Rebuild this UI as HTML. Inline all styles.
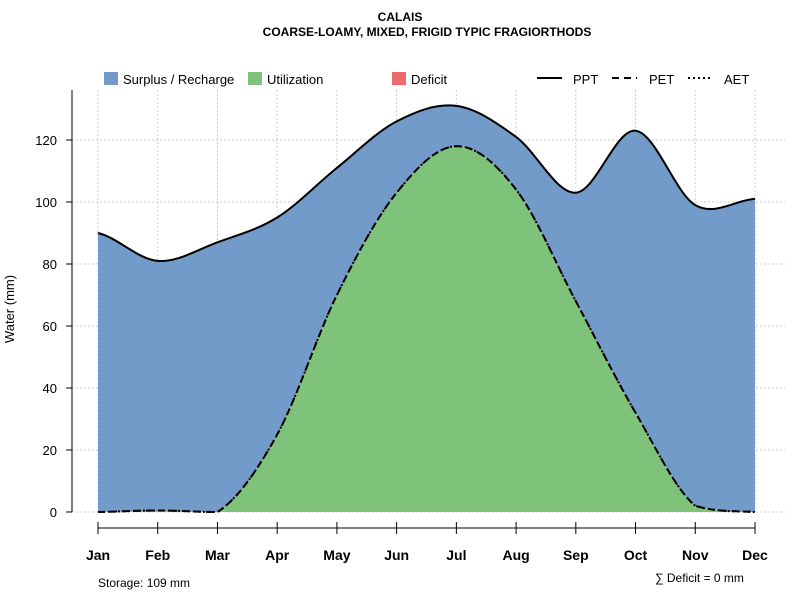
<!DOCTYPE html>
<html><head><meta charset="utf-8"><style>
body{margin:0;background:#fff;font-family:"Liberation Sans",sans-serif}
</style></head><body>
<svg id="c" width="800" height="600" xmlns="http://www.w3.org/2000/svg" font-family="Liberation Sans, sans-serif">
<text x="400" y="21" text-anchor="middle" font-size="12" font-weight="bold">CALAIS</text>
<text x="427" y="36" text-anchor="middle" font-size="12" font-weight="bold">COARSE-LOAMY, MIXED, FRIGID TYPIC FRAGIORTHODS</text>
<g id="grid"></g>
<g id="areas"></g>
<g id="lines"></g>
<g id="axes"></g>
<g font-size="13">
<rect x="104" y="72" width="14" height="13" fill="#729bc9"/><text x="123" y="84">Surplus / Recharge</text>
<rect x="248" y="72" width="14" height="13" fill="#7fc37b"/><text x="267" y="84">Utilization</text>
<rect x="392" y="72" width="14" height="13" fill="#ee6a6a"/><text x="411" y="84">Deficit</text>
<line x1="537" y1="78" x2="562" y2="78" stroke="#000" stroke-width="2"/><text x="573" y="84">PPT</text>
<line x1="612" y1="78" x2="637" y2="78" stroke="#000" stroke-width="2" stroke-dasharray="7,5"/><text x="649" y="84">PET</text>
<line x1="688" y1="78" x2="713" y2="78" stroke="#000" stroke-width="2" stroke-dasharray="2,3"/><text x="724" y="84">AET</text>
</g>
<text x="98" y="587" font-size="12">Storage: 109 mm</text>
<text x="655" y="582" font-size="12">∑ Deficit = 0 mm</text>
<text transform="translate(14,309) rotate(-90)" text-anchor="middle" font-size="13">Water (mm)</text>
</svg>
<script>
const months=["Jan","Feb","Mar","Apr","May","Jun","Jul","Aug","Sep","Oct","Nov","Dec"];
const ppt=[90,81,87,95,111,126,131,121,103,123,99,101];
const pet=[0,0.5,0,25,70,103,118,104,68,32,2,0];
const aet=[0,0.5,0,25,70,103,118,104,68,32,2,0];
const yTicks=[0,20,40,60,80,100,120];
const NS="http://www.w3.org/2000/svg";
const X=i=>98+i*(755-98)/11, Y=v=>512-v*3.1;
function mk(t,a,p){const e=document.createElementNS(NS,t);for(const k in a)e.setAttribute(k,a[k]);document.getElementById(p).appendChild(e);return e;}
function path(vals){let d=`M${X(0)},${Y(vals[0])}`;for(let i=0;i<vals.length-1;i++){const p0=vals[Math.max(i-1,0)],p1=vals[i],p2=vals[i+1],p3=vals[Math.min(i+2,vals.length-1)];const dx=X(1)-X(0);const c1=Math.max(0,p1+(p2-p0)/6),c2=Math.max(0,p2-(p3-p1)/6);d+=` C${X(i)+dx/3},${Y(c1)} ${X(i+1)-dx/3},${Y(c2)} ${X(i+1)},${Y(p2)}`;}return d;}
yTicks.forEach(v=>{const l=mk('line',{x1:72,x2:785,y1:Y(v),y2:Y(v),stroke:'#ccc','stroke-dasharray':'2,2'},'grid');});
months.forEach((m,i)=>{const l=mk('line',{x1:X(i),x2:X(i),y1:90,y2:512,stroke:'#ccc','stroke-dasharray':'2,2'},'grid');});
const base=`L${X(11)},${Y(0)} L${X(0)},${Y(0)} Z`;
const a1=mk('path',{d:path(ppt)+base,fill:'#729bc9'},'areas');
const a2=mk('path',{d:path(pet)+base,fill:'#7fc37b'},'areas');
const l1=mk('path',{d:path(ppt),fill:'none',stroke:'#000','stroke-width':2},'lines');
const l2=mk('path',{d:path(pet),fill:'none',stroke:'#000','stroke-width':2,'stroke-dasharray':'7,5'},'lines');
const l3=mk('path',{d:path(aet),fill:'none',stroke:'#000','stroke-width':2,'stroke-dasharray':'2,3'},'lines');
const ya=mk('line',{x1:72,x2:72,y1:90,y2:512,stroke:'#000'},'axes');
yTicks.forEach(v=>{mk('line',{x1:66,x2:72,y1:Y(v),y2:Y(v),stroke:'#000'},'axes');const t=mk('text',{x:57,y:Y(v)+5,'text-anchor':'end','font-size':13},'axes');t.textContent=v;});
const xa=mk('line',{x1:X(0),x2:X(11),y1:528,y2:528,stroke:'#000'},'axes');
months.forEach((m,i)=>{mk('line',{x1:X(i),x2:X(i),y1:522,y2:534,stroke:'#000'},'axes');const t=mk('text',{x:X(i),y:560,'text-anchor':'middle','font-size':14,'font-weight':'bold'},'axes');t.textContent=m;});
</script>
</body></html>
